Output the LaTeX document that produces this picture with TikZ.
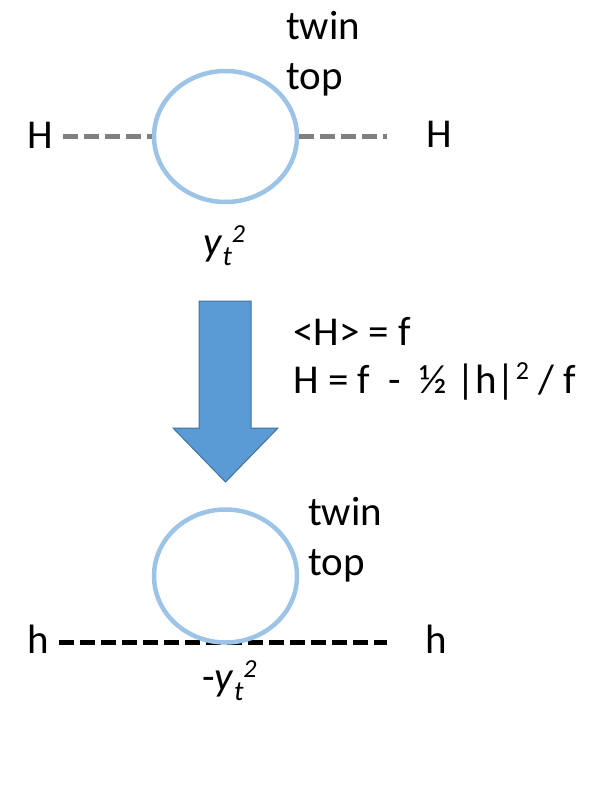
\documentclass[tikz,border=0pt]{standalone}
\usepackage{fontspec}
\setmainfont{Carlito}
\usetikzlibrary{shapes.geometric}
\definecolor{loopblue}{HTML}{9DC3E6}
\definecolor{arrowfill}{HTML}{5B9BD5}
\definecolor{arrowedge}{HTML}{41719C}
\definecolor{dashgray}{HTML}{808080}
\newcommand{\ytsq}{\textit{y}\raisebox{-10pt}{\fontsize{28}{28}\selectfont\textit{t}}\raisebox{13pt}{\fontsize{26}{26}\selectfont\textit{2}}}
\begin{document}
\begin{tikzpicture}[x=1pt,y=-1pt,
  lbl/.style={font=\fontsize{41}{50}\selectfont, inner sep=0pt, anchor=base west},
  looprt/.style={draw=loopblue, line width=4.5pt, ellipse, inner sep=0pt, minimum width=143pt},
  hline/.style={line width=4.5pt, dash pattern=on 15pt off 6pt}]
\useasboundingbox (0,0) rectangle (614,787);
% top diagram
\node[looprt, minimum height=131pt] (loop1) at (225.5,136.5) {};
\node[lbl] (Hl) at (27,148) {H};
\node[lbl] (Hr) at (426,147) {H};
\draw[hline, dashgray] ([xshift=10pt]Hl.east |- loop1.west) -- (loop1.west);
\draw[hline, dashgray] (loop1.east) -- ([xshift=-39pt]Hr.west |- loop1.east);
\node[lbl] (twin1) at (286,39) {twin};
\node[lbl] (top1) at (286,89) {top};
\node[lbl] (yt1) at (203,255) {\ytsq};
% arrow
\draw[draw=arrowedge, fill=arrowfill, line width=1pt, line join=miter]
  (199,301) -- (251,301) -- (251,428) -- (278,428) -- (225.5,482) -- (173,428) -- (199,428) -- cycle;
\node[lbl] (eq1) at (293,345) {<H> = f};
\node[lbl] (eq2) at (293,393) {H = f \ - \ ½ |h|\raisebox{14pt}{\fontsize{26}{26}\selectfont 2} / f};
% bottom diagram
\node[lbl] (hl) at (27,653) {h};
\node[lbl] (hr) at (425,653) {h};
\coordinate (c2) at (225.5,576);
\node[inner sep=0pt, minimum width=143pt, minimum height=133pt, ellipse] (loop2pos) at (c2) {};
\draw[hline, black] ([xshift=10pt]hl.east |- loop2pos.south) -- ([xshift=-38pt]hr.west |- loop2pos.south);
\node[looprt, minimum height=133pt] (loop2) at (c2) {};
\node[lbl] (twin2) at (308,525) {twin};
\node[lbl] (top2) at (308,575) {top};
\node[lbl] (yt2) at (202,690) {-\ytsq};
\end{tikzpicture}
\end{document}
